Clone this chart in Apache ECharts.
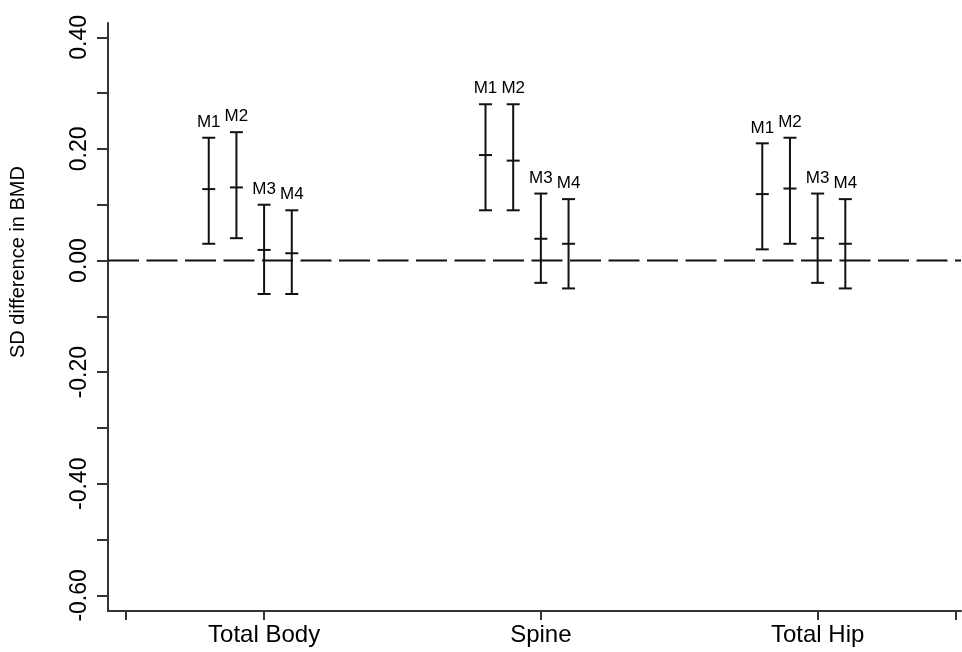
<!DOCTYPE html>
<html>
<head>
<meta charset="utf-8">
<script src="https://cdn.jsdelivr.net/npm/echarts@6/dist/echarts.min.js"></script>
<style>html,body{margin:0;padding:0;background:#fff}#c{width:962px;height:652px}</style>
</head>
<body>
<div id="c"></div>
<script>
// ---- data ----
const categories = ['Total Body', 'Spine', 'Total Hip'];
const models = ['M1', 'M2', 'M3', 'M4'];
// point estimates per category (rows) and model (columns)
const meanValues = [
  [0.128, 0.131, 0.019, 0.013],
  [0.189, 0.179, 0.039, 0.030],
  [0.119, 0.129, 0.040, 0.030]
];
const lowerValues = [
  [0.03, 0.04, -0.06, -0.06],
  [0.09, 0.09, -0.04, -0.05],
  [0.02, 0.03, -0.04, -0.05]
];
const upperValues = [
  [0.22, 0.23, 0.10, 0.09],
  [0.28, 0.28, 0.12, 0.11],
  [0.21, 0.22, 0.12, 0.11]
];
const yTickValues = [-0.6, -0.5, -0.4, -0.3, -0.2, -0.1, 0, 0.1, 0.2, 0.3, 0.4];
const yLabelValues = [-0.6, -0.4, -0.2, 0, 0.2, 0.4];
const xTickValues = [0.5, 1, 2, 3, 3.5];
const xLabelValues = [1, 2, 3];
const yTitle = 'SD difference in BMD';

// ---- layout constants ----
const modelOffset = [-0.2, -0.1, 0, 0.1];
const X_MIN = 0.436, X_MAX = 3.518, Y_MIN = -0.628, Y_MAX = 0.4256;
const FONT = "'Liberation Sans', Arial, sans-serif";

const barData = [];
categories.forEach((c, i) => {
  models.forEach((m, j) => {
    barData.push([i + 1 + modelOffset[j], lowerValues[i][j], meanValues[i][j], upperValues[i][j], m]);
  });
});

const chart = echarts.init(document.getElementById('c'), null, {renderer: 'canvas'});
const capHalf = 6.5;
const lineStyle = {stroke: '#111', lineWidth: 2};

chart.setOption({
  animation: false,
  backgroundColor: '#fff',
  grid: {left: 108, right: 1, top: 23, bottom: 41, containLabel: false},
  xAxis: {
    type: 'value', min: X_MIN, max: X_MAX,
    splitLine: {show: false},
    axisLine: {show: true, onZero: false, lineStyle: {color: '#333', width: 2}},
    axisTick: {show: true, customValues: xTickValues, length: 9, lineStyle: {color: '#333', width: 2}},
    axisLabel: {
      customValues: xLabelValues, margin: 12, fontSize: 24, color: '#000', fontFamily: FONT,
      formatter: v => categories[Math.round(v) - 1] || ''
    }
  },
  yAxis: {
    type: 'value', min: Y_MIN, max: Y_MAX,
    splitLine: {show: false},
    axisLine: {show: true, onZero: false, lineStyle: {color: '#333', width: 2}},
    axisTick: {show: true, customValues: yTickValues, length: 11, lineStyle: {color: '#333', width: 2}},
    axisLabel: {
      customValues: yLabelValues, rotate: 90, margin: 17, fontSize: 23, color: '#000', fontFamily: FONT,
      formatter: v => Number(v).toFixed(2)
    }
  },
  graphic: [{
    type: 'text', x: 18, y: 262, rotation: Math.PI / 2,
    style: {text: yTitle, fill: '#000', font: "20px " + FONT, align: 'center', verticalAlign: 'middle'}
  }],
  series: [
    {
      type: 'line', data: [[X_MIN, 0], [X_MAX, 0]], showSymbol: false, silent: true,
      lineStyle: {color: '#111', width: 2, type: [31, 7.5]}, z: 1
    },
    {
      type: 'custom', z: 5,
      data: barData,
      renderItem: (params, api) => {
        const x = api.value(0);
        const lo = api.coord([x, api.value(1)]);
        const mid = api.coord([x, api.value(2)]);
        const hi = api.coord([x, api.value(3)]);
        const px = hi[0];
        return {
          type: 'group',
          children: [
            {type: 'line', shape: {x1: px, y1: hi[1], x2: px, y2: lo[1]}, style: lineStyle},
            {type: 'line', shape: {x1: px - capHalf, y1: hi[1], x2: px + capHalf, y2: hi[1]}, style: lineStyle},
            {type: 'line', shape: {x1: px - capHalf, y1: lo[1], x2: px + capHalf, y2: lo[1]}, style: lineStyle},
            {type: 'line', shape: {x1: px - capHalf, y1: mid[1], x2: px + capHalf, y2: mid[1]}, style: lineStyle},
            {type: 'text', x: px, y: hi[1] - 7,
             style: {text: barData[params.dataIndex][4], fill: '#000', font: "17px " + FONT, align: 'center', verticalAlign: 'bottom'}}
          ]
        };
      }
    }
  ]
});
</script>
</body>
</html>
